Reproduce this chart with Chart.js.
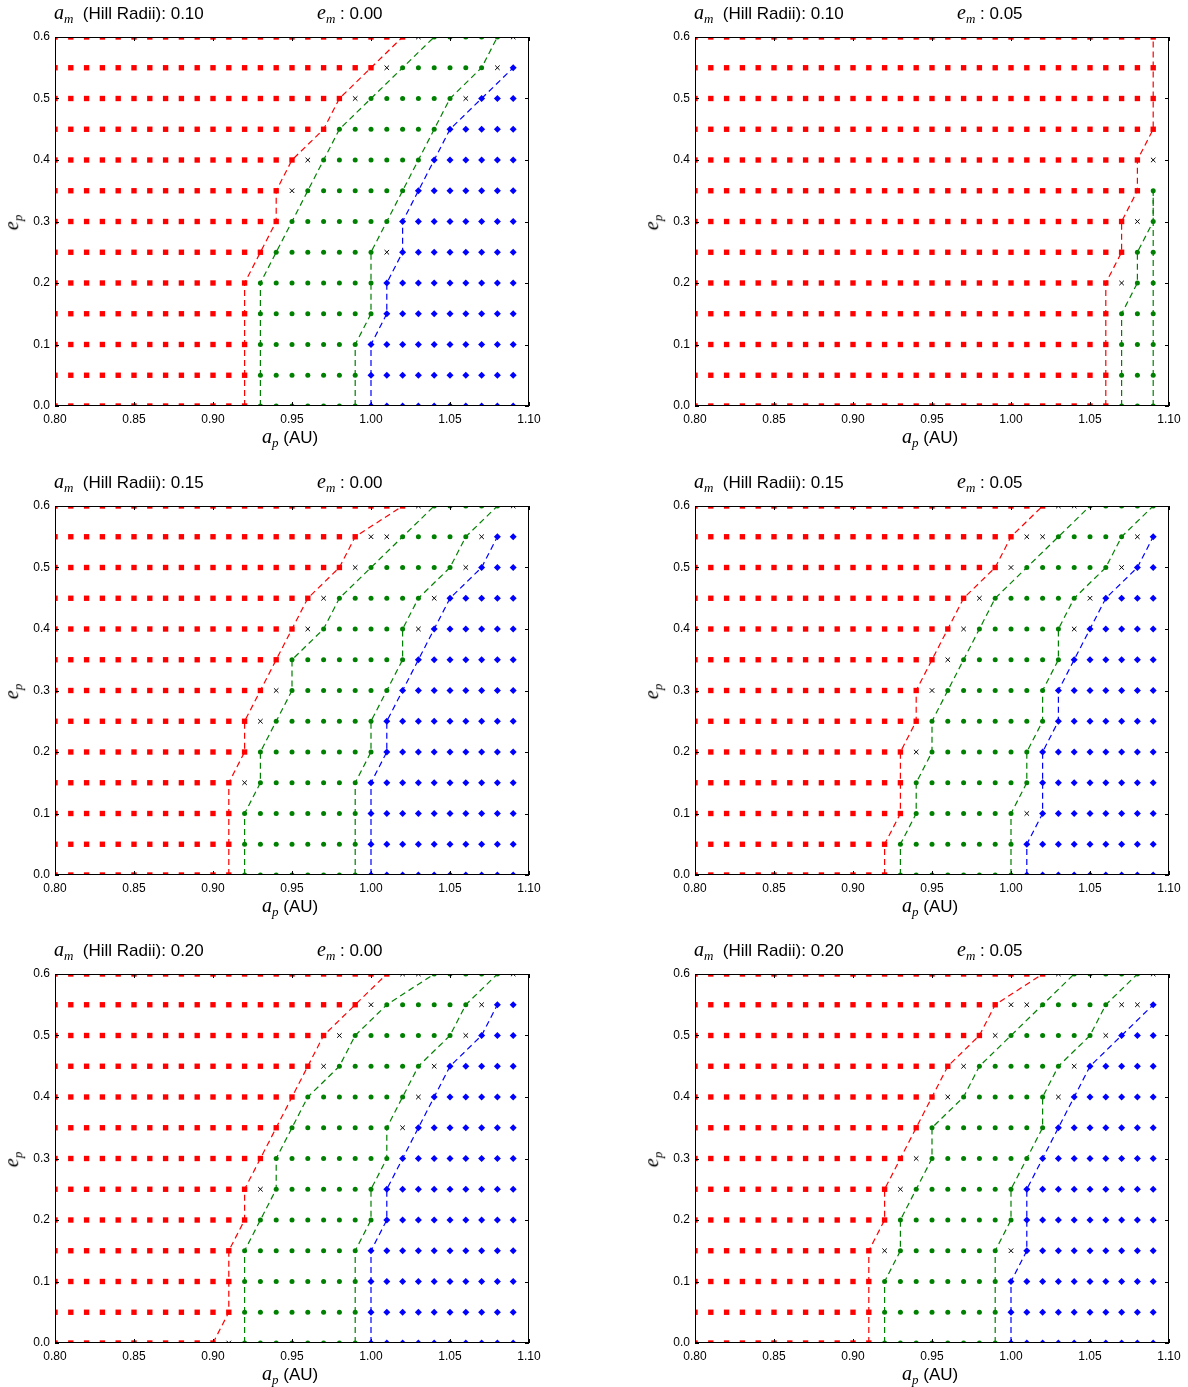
<!DOCTYPE html>
<html>
<head>
<meta charset="UTF-8">
<title>Stability maps</title>
<script src="https://cdn.jsdelivr.net/npm/chart.js@4.4.0/dist/chart.umd.min.js"></script>
<style>
    body { margin: 0; background: #fff; }
    #fig { position: relative; width: 1188px; height: 1387px; overflow: hidden; }
    #fig canvas { position: absolute; }
    .txt { position: absolute; font-family: "Liberation Sans", Arial, sans-serif; font-size: 17px; color: #000; white-space: nowrap; line-height: 20px; }
    .txt i { font-family: "Liberation Serif", "DejaVu Serif", serif; font-size: 20px; }
    .txt sub { font-family: "Liberation Serif", "DejaVu Serif", serif; font-style: italic; font-size: 13px; vertical-align: -4px; }
    .ylab { transform: rotate(-90deg); transform-origin: center center; }
</style>
</head>
<body>
<div id="fig"></div>
<script type="text/javascript">
    var aValues = [0.80, 0.81, 0.82, 0.83, 0.84, 0.85, 0.86, 0.87, 0.88, 0.89,
                   0.90, 0.91, 0.92, 0.93, 0.94, 0.95, 0.96, 0.97, 0.98, 0.99,
                   1.00, 1.01, 1.02, 1.03, 1.04, 1.05, 1.06, 1.07, 1.08, 1.09];
    var eValues = [0.00, 0.05, 0.10, 0.15, 0.20, 0.25, 0.30, 0.35, 0.40, 0.45, 0.50, 0.55, 0.60];
    var xTicks = [0.80, 0.85, 0.90, 0.95, 1.00, 1.05, 1.10];
    var yTicks = [0.0, 0.1, 0.2, 0.3, 0.4, 0.5, 0.6];
    var hillRadii = ["0.10", "0.10", "0.15", "0.15", "0.20", "0.20"];
    var moonEcc = ["0.00", "0.05", "0.00", "0.05", "0.00", "0.05"];

    // one string per e_p row (0.00 -> 0.60), one letter per a_p column, spaces every 5 columns
    // r = red square, x = black cross, g = green dot, b = blue diamond
    var grid1 = [
        "rrrrr rrrrr rrrgg ggggg bbbbb bbbbb",
        "rrrrr rrrrr rrrgg ggggg bbbbb bbbbb",
        "rrrrr rrrrr rrrgg ggggg bbbbb bbbbb",
        "rrrrr rrrrr rrrgg ggggg gbbbb bbbbb",
        "rrrrr rrrrr rrrgg ggggg gbbbb bbbbb",
        "rrrrr rrrrr rrrrg ggggg gxbbb bbbbb",
        "rrrrr rrrrr rrrrr ggggg ggbbb bbbbb",
        "rrrrr rrrrr rrrrr xgggg gggbb bbbbb",
        "rrrrr rrrrr rrrrr rxggg ggggb bbbbb",
        "rrrrr rrrrr rrrrr rrrgg ggggg bbbbb",
        "rrrrr rrrrr rrrrr rrrrx ggggg gxbbb",
        "rrrrr rrrrr rrrrr rrrrr rxggg gggxb",
        "rrrrr rrrrr rrrrr rrrrr rrrxg ggggx"
    ];
    var grid2 = [
        "rrrrr rrrrr rrrrr rrrrr rrrrr rrggg",
        "rrrrr rrrrr rrrrr rrrrr rrrrr rrggg",
        "rrrrr rrrrr rrrrr rrrrr rrrrr rrggg",
        "rrrrr rrrrr rrrrr rrrrr rrrrr rrggg",
        "rrrrr rrrrr rrrrr rrrrr rrrrr rrxgg",
        "rrrrr rrrrr rrrrr rrrrr rrrrr rrrgg",
        "rrrrr rrrrr rrrrr rrrrr rrrrr rrrxg",
        "rrrrr rrrrr rrrrr rrrrr rrrrr rrrrg",
        "rrrrr rrrrr rrrrr rrrrr rrrrr rrrrx",
        "rrrrr rrrrr rrrrr rrrrr rrrrr rrrrr",
        "rrrrr rrrrr rrrrr rrrrr rrrrr rrrrr",
        "rrrrr rrrrr rrrrr rrrrr rrrrr rrrrr",
        "rrrrr rrrrr rrrrr rrrrr rrrrr rrrrr"
    ];
    var grid3 = [
        "rrrrr rrrrr rrggg ggggg bbbbb bbbbb",
        "rrrrr rrrrr rrggg ggggg bbbbb bbbbb",
        "rrrrr rrrrr rrggg ggggg bbbbb bbbbb",
        "rrrrr rrrrr rrxgg ggggg bbbbb bbbbb",
        "rrrrr rrrrr rrrgg ggggg gbbbb bbbbb",
        "rrrrr rrrrr rrrxg ggggg gbbbb bbbbb",
        "rrrrr rrrrr rrrrx ggggg ggbbb bbbbb",
        "rrrrr rrrrr rrrrr ggggg gggbb bbbbb",
        "rrrrr rrrrr rrrrr rxggg gggxb bbbbb",
        "rrrrr rrrrr rrrrr rrxgg ggggx bbbbb",
        "rrrrr rrrrr rrrrr rrrrx ggggg gxbbb",
        "rrrrr rrrrr rrrrr rrrrr xxggg ggxbb",
        "rrrrr rrrrr rrrrr rrrrr rrrxg ggggx"
    ];
    var grid4 = [
        "rrrrr rrrrr rrrgg ggggg gbbbb bbbbb",
        "rrrrr rrrrr rrrgg ggggg gbbbb bbbbb",
        "rrrrr rrrrr rrrrg ggggg gxbbb bbbbb",
        "rrrrr rrrrr rrrrg ggggg ggbbb bbbbb",
        "rrrrr rrrrr rrrrx ggggg ggbbb bbbbb",
        "rrrrr rrrrr rrrrr ggggg gggbb bbbbb",
        "rrrrr rrrrr rrrrr xgggg gggbb bbbbb",
        "rrrrr rrrrr rrrrr rxggg ggggb bbbbb",
        "rrrrr rrrrr rrrrr rrxgg ggggx bbbbb",
        "rrrrr rrrrr rrrrr rrrxg ggggg xbbbb",
        "rrrrr rrrrr rrrrr rrrrr xgggg ggxbb",
        "rrrrr rrrrr rrrrr rrrrr rxxgg gggxb",
        "rrrrr rrrrr rrrrr rrrrr rrrxx ggggg"
    ];
    var grid5 = [
        "rrrrr rrrrr rxggg ggggg bbbbb bbbbb",
        "rrrrr rrrrr rrggg ggggg bbbbb bbbbb",
        "rrrrr rrrrr rrggg ggggg bbbbb bbbbb",
        "rrrrr rrrrr rrggg ggggg bbbbb bbbbb",
        "rrrrr rrrrr rrrgg ggggg gbbbb bbbbb",
        "rrrrr rrrrr rrrxg ggggg gbbbb bbbbb",
        "rrrrr rrrrr rrrrg ggggg ggbbb bbbbb",
        "rrrrr rrrrr rrrrr ggggg ggxbb bbbbb",
        "rrrrr rrrrr rrrrr rgggg gggxb bbbbb",
        "rrrrr rrrrr rrrrr rrxgg ggggx bbbbb",
        "rrrrr rrrrr rrrrr rrrxg ggggg gxbbb",
        "rrrrr rrrrr rrrrr rrrrr xgggg ggxbb",
        "rrrrr rrrrr rrrrr rrrrr rrxxg ggggx"
    ];
    var grid6 = [
        "rrrrr rrrrr rrggg ggggg bbbbb bbbbb",
        "rrrrr rrrrr rrggg ggggg bbbbb bbbbb",
        "rrrrr rrrrr rrggg ggggg bbbbb bbbbb",
        "rrrrr rrrrr rrxgg ggggg xbbbb bbbbb",
        "rrrrr rrrrr rrrgg ggggg gbbbb bbbbb",
        "rrrrr rrrrr rrrxg ggggg gbbbb bbbbb",
        "rrrrr rrrrr rrrrx ggggg ggbbb bbbbb",
        "rrrrr rrrrr rrrrr ggggg gggbb bbbbb",
        "rrrrr rrrrr rrrrr rxggg gggxb bbbbb",
        "rrrrr rrrrr rrrrr rrxgg ggggx bbbbb",
        "rrrrr rrrrr rrrrr rrrrx ggggg gxbbb",
        "rrrrr rrrrr rrrrr rrrrr xxggg ggxxb",
        "rrrrr rrrrr rrrrr rrrrr rrrxg ggggx"
    ];
    var grids = [grid1, grid2, grid3, grid4, grid5, grid6];

    var RED = "#ff0000", GREEN = "#008000", BLUE = "#0000ff";

    function cleanRow(row) {
        var s = row.replace(/ /g, "");
        if (s.length !== aValues.length) throw new Error("bad row: " + row);
        return s;
    }

    function pointsOf(grid, kind) {
        var pts = [];
        grid.forEach(function (row, j) {
            var s = cleanRow(row);
            for (var i = 0; i < s.length; i++) {
                if (s[i] === kind) pts.push({x: aValues[i], y: eValues[j]});
            }
        });
        return pts;
    }

    // boundary line: first or last column of a kind in each row
    function edgeOf(grid, kind, last) {
        var pts = [];
        grid.forEach(function (row, j) {
            var s = cleanRow(row);
            var i = last ? s.lastIndexOf(kind) : s.indexOf(kind);
            if (i >= 0) pts.push({x: aValues[i], y: eValues[j]});
        });
        return pts;
    }

    function markerSet(data, style, radius, color) {
        return {
            data: data, showLine: false, clip: 0,
            pointStyle: style, pointRadius: radius, pointHoverRadius: radius,
            backgroundColor: color, borderColor: color,
            borderWidth: style === "crossRot" ? 1 : 0
        };
    }

    function dashSet(data, color) {
        return {
            data: data, showLine: true, clip: 0, pointRadius: 0, pointHoverRadius: 0,
            borderColor: color, borderWidth: 1.2, borderDash: [6, 4], fill: false, tension: 0
        };
    }

    var frameTicks = {
        id: "frameTicks",
        afterDraw: function (chart) {
            var ctx = chart.ctx, area = chart.chartArea;
            var xs = chart.scales.x, ys = chart.scales.y;
            ctx.save();
            ctx.strokeStyle = "#000";
            ctx.lineWidth = 1;
            ctx.beginPath();
            xs.ticks.forEach(function (t) {
                var px = Math.round(xs.getPixelForValue(t.value)) + 0.5;
                ctx.moveTo(px, area.bottom); ctx.lineTo(px, area.bottom - 4);
                ctx.moveTo(px, area.top); ctx.lineTo(px, area.top + 4);
            });
            ys.ticks.forEach(function (t) {
                var py = Math.round(ys.getPixelForValue(t.value)) + 0.5;
                ctx.moveTo(area.left, py); ctx.lineTo(area.left + 4, py);
                ctx.moveTo(area.right, py); ctx.lineTo(area.right - 4, py);
            });
            ctx.stroke();
            ctx.strokeRect(Math.round(area.left) + 0.5, Math.round(area.top) + 0.5,
                Math.round(area.right - area.left) - 1, Math.round(area.bottom - area.top) - 1);
            ctx.restore();
        }
    };

    function noScalePadding(s) {
        s.paddingTop = 0;
        s.paddingBottom = 0;
        s.paddingLeft = 0;
        s.paddingRight = 0;
    }

    var fig = document.getElementById("fig");
    var colLeft = [0, 640];
    var rowTop = [27, 496, 964];
    var tickFont = {family: "'Liberation Sans', Arial, sans-serif", size: 12};

    function addText(html, left, top, cls) {
        var d = document.createElement("div");
        d.className = "txt" + (cls ? " " + cls : "");
        d.innerHTML = html;
        d.style.left = left + "px";
        d.style.top = top + "px";
        fig.appendChild(d);
        return d;
    }

    grids.forEach(function (grid, k) {
        var left = colLeft[k % 2], top = rowTop[Math.floor(k / 2)];
        var canvas = document.createElement("canvas");
        canvas.width = 544;
        canvas.height = 401;
        canvas.style.left = left + "px";
        canvas.style.top = top + "px";
        fig.appendChild(canvas);

        var plotLeft = left + 55, plotTop = top + 10, plotBottom = top + 379;

        addText("<i>a</i><sub>m</sub>&nbsp; (Hill Radii): " + hillRadii[k], plotLeft - 1, plotTop - 35);
        addText("<i>e</i><sub>m</sub> : " + moonEcc[k], plotLeft + 262, plotTop - 35);
        addText("<i>a</i><sub>p</sub> (AU)", plotLeft + 207, plotBottom + 20);
        addText("<i>e</i><sub>p</sub>", plotLeft - 48, plotTop + 172, "ylab");

        new Chart(canvas, {
            type: "scatter",
            data: {
                datasets: [
                    dashSet(edgeOf(grid, "r", true), RED),
                    dashSet(edgeOf(grid, "g", false), GREEN),
                    dashSet(edgeOf(grid, "g", true), GREEN),
                    dashSet(edgeOf(grid, "b", false), BLUE),
                    markerSet(pointsOf(grid, "x"), "crossRot", 3.2, "#000"),
                    markerSet(pointsOf(grid, "b"), "rectRot", 3.5, BLUE),
                    markerSet(pointsOf(grid, "g"), "circle", 2.5, GREEN),
                    markerSet(pointsOf(grid, "r"), "rect", 3.8, RED)
                ]
            },
            options: {
                responsive: false,
                animation: false,
                events: [],
                layout: {padding: {top: 10, right: 15, left: 0, bottom: 0}},
                plugins: {legend: {display: false}, tooltip: {enabled: false}},
                scales: {
                    x: {
                        type: "linear", min: 0.8, max: 1.1,
                        grid: {display: false, drawTicks: false},
                        border: {display: false},
                        afterBuildTicks: function (s) { s.ticks = xTicks.map(function (v) { return {value: v}; }); },
                        afterFit: function (s) { s.height = 22; noScalePadding(s); },
                        ticks: {
                            font: tickFont, color: "#000", padding: 6, maxRotation: 0, autoSkip: false,
                            callback: function (v) { return Number(v).toFixed(2); }
                        }
                    },
                    y: {
                        type: "linear", min: 0, max: 0.6,
                        grid: {display: false, drawTicks: false},
                        border: {display: false},
                        afterBuildTicks: function (s) { s.ticks = yTicks.map(function (v) { return {value: v}; }); },
                        afterFit: function (s) { s.width = 55; noScalePadding(s); },
                        ticks: {
                            font: tickFont, color: "#000", padding: 5, autoSkip: false,
                            callback: function (v) { return Number(v).toFixed(1); }
                        }
                    }
                }
            },
            plugins: [frameTicks]
        });
    });
</script>
</body>
</html>
